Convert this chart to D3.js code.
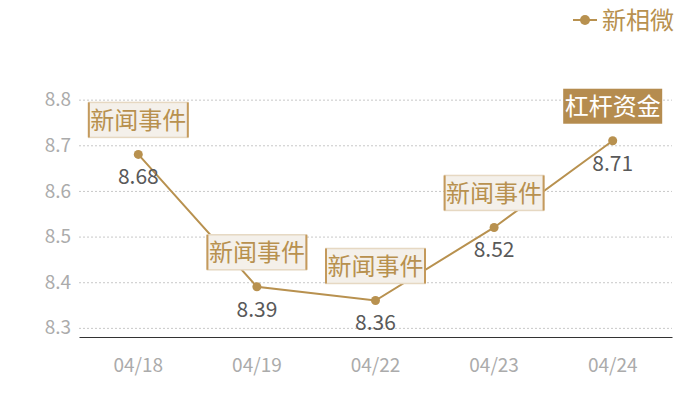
<!DOCTYPE html>
<html>
<head>
<meta charset="utf-8">
<script src="https://cdn.jsdelivr.net/npm/d3@7"></script>
<style>
  body { margin: 0; background: #fff; }
  svg { display: block; font-family: "Noto Sans CJK SC", "Noto Sans", sans-serif; }
</style>
</head>
<body>
<div id="chart"></div>
<script>
// data
let dates = ["04/18", "04/19", "04/22", "04/23", "04/24"];
let values = [8.68, 8.39, 8.36, 8.52, 8.71];
let notes = ["新闻事件", "新闻事件", "新闻事件", "新闻事件", "杠杆资金"];
let highlight = [false, false, false, false, true];
let yTicks = [8.3, 8.4, 8.5, 8.6, 8.7, 8.8];
let seriesName = "新相微";

let width = 700, height = 400;
let margin = ({ top: 54, right: 28, bottom: 63, left: 79 });
let gold = "#b8914f";

let x = d3.scaleBand()
    .domain(dates)
    .range([margin.left, width - margin.right]);

let y = d3.scaleLinear()
    .domain([8.28, 8.9])
    .range([height - margin.bottom, margin.top]);

let svg = d3.select("#chart")
    .append("svg")
    .attr("width", width)
    .attr("height", height)
    .attr("viewBox", [0, 0, width, height]);

// grid + y labels
svg.append("g")
    .attr("transform", `translate(${margin.left},0)`)
    .call(d3.axisLeft(y).tickValues(yTicks).tickFormat(d3.format(".1f")).tickSize(0).tickPadding(8))
    .call(g => g.select(".domain").remove())
    .call(g => g.selectAll(".tick text")
        .attr("fill", "#ababab")
        .attr("font-size", 19)
        .attr("font-family", "'Noto Sans CJK SC', sans-serif"))
    .call(g => g.selectAll(".tick line").clone()
        .attr("x2", width - margin.left - margin.right)
        .attr("stroke", "#c8c8c8")
        .attr("stroke-dasharray", "2,2"));

// x axis
svg.append("g")
    .attr("transform", `translate(0,${height - margin.bottom})`)
    .call(d3.axisBottom(x).tickSize(0).tickPadding(22))
    .call(g => g.select(".domain").attr("stroke", "#333").attr("stroke-width", 1.2))
    .call(g => g.selectAll(".tick text")
        .attr("fill", "#ababab")
        .attr("font-size", 19)
        .attr("font-family", "'Noto Sans CJK SC', sans-serif"));

let cx = d => x(d) + x.bandwidth() / 2;

let line = d3.line()
    .x((d, i) => cx(dates[i]))
    .y(d => y(d));

svg.append("path")
    .datum(values)
    .attr("fill", "none")
    .attr("stroke", gold)
    .attr("stroke-width", 2)
    .attr("d", line);

svg.append("g")
    .attr("fill", gold)
    .selectAll("circle")
    .data(values)
    .join("circle")
    .attr("cx", (d, i) => cx(dates[i]))
    .attr("cy", d => y(d))
    .attr("r", 4.5);

// value labels
svg.append("g")
    .attr("font-size", 21)
    .attr("fill", "#595959")
    .attr("text-anchor", "middle")
    .selectAll("text")
    .data(values)
    .join("text")
    .attr("x", (d, i) => cx(dates[i]))
    .attr("y", d => y(d) + 30)
    .text(d => d.toFixed(2));

// annotation boxes
let bw = 99, bh = 35;
let note = svg.append("g")
    .selectAll("g")
    .data(values)
    .join("g")
    .attr("transform", (d, i) => `translate(${cx(dates[i])},${y(d) - 17 - bh / 2})`);

note.append("rect")
    .attr("x", -bw / 2)
    .attr("y", -bh / 2)
    .attr("width", bw)
    .attr("height", bh)
    .attr("fill", (d, i) => highlight[i] ? "#b58c4f" : "#f4f0ea")
    .attr("stroke", (d, i) => highlight[i] ? "none" : "#e6d8c2")
    .attr("stroke-width", 1.5);

note.filter((d, i) => !highlight[i])
    .selectAll("line")
    .data([-bw / 2, bw / 2])
    .join("line")
    .attr("x1", d => d).attr("x2", d => d)
    .attr("y1", -bh / 2).attr("y2", bh / 2)
    .attr("stroke", "#c49a5c")
    .attr("stroke-width", 2);

note.append("text")
    .attr("text-anchor", "middle")
    .attr("dy", "0.36em")
    .attr("font-size", 24)
    .attr("fill", (d, i) => highlight[i] ? "#fff" : "#b8914f")
    .text((d, i) => notes[i]);

// legend
let legend = svg.append("g").attr("transform", "translate(585,20)");
legend.append("line")
    .attr("x1", -12).attr("x2", 12)
    .attr("stroke", gold).attr("stroke-width", 2);
legend.append("circle").attr("r", 5).attr("fill", gold);
legend.append("text")
    .attr("x", 17)
    .attr("dy", "0.36em")
    .attr("font-size", 24)
    .attr("fill", gold)
    .text(seriesName);
</script>
</body>
</html>
